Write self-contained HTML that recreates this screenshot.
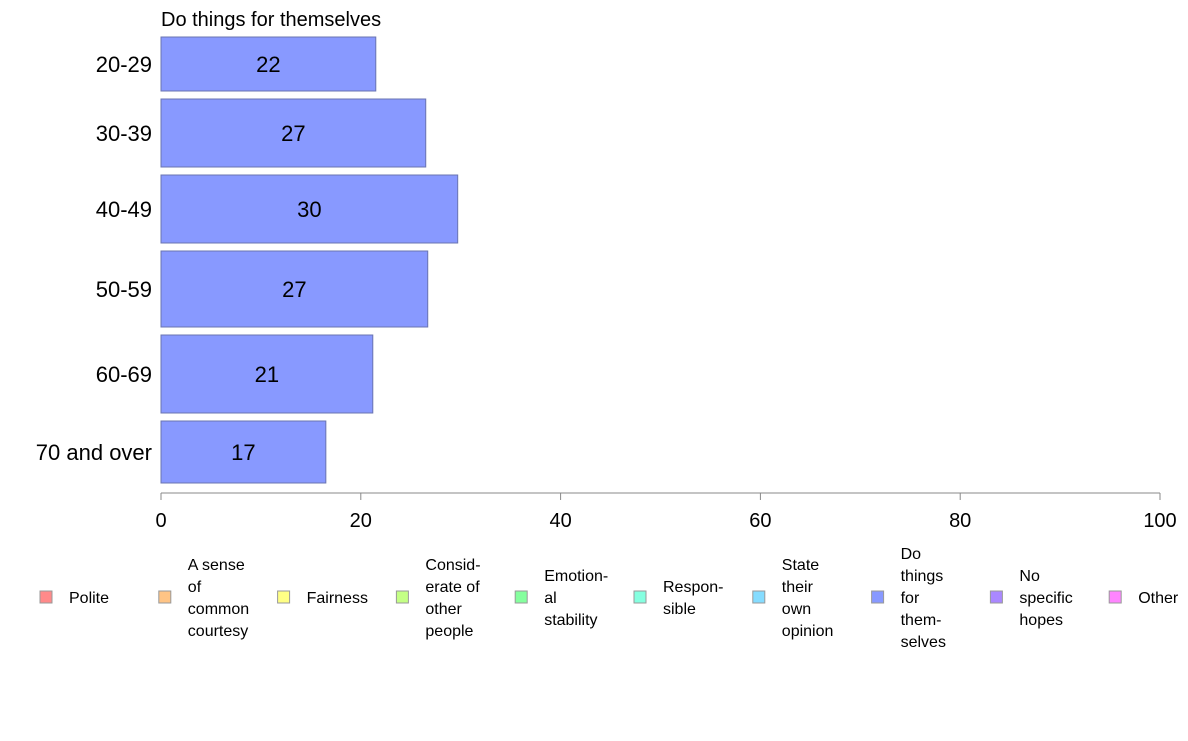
<!DOCTYPE html>
<html><head><meta charset="utf-8"><style>
body{margin:0;background:#fff;font-family:"Liberation Sans",Arial,sans-serif}
svg text{font-family:"Liberation Sans",Arial,sans-serif}
</style></head><body>
<svg id="chart" width="1188" height="736" viewBox="0 0 1188 736" xmlns="http://www.w3.org/2000/svg">
<text x="161" y="26" font-size="20">Do things for themselves</text>
<g id="bars"></g>
<g id="axis"></g>
<g id="legend"></g>
</svg>
<script>
const categories = ["20-29","30-39","40-49","50-59","60-69","70 and over"];
const values = [21.5, 26.5, 29.7, 26.7, 21.2, 16.5];
const sampleSizes = [54, 68, 68, 76, 78, 62];
const xTicks = [0,20,40,60,80,100];
const legendLabels = [["Polite"],["A sense","of","common","courtesy"],["Fairness"],["Consid-","erate of","other","people"],["Emotion-","al","stability"],["Respon-","sible"],["State","their","own","opinion"],["Do","things","for","them-","selves"],["No","specific","hopes"],["Other"]];
const legendColors = ["#ff8a8a","#ffc485","#ffff85","#c4ff85","#85ff9e","#85ffe0","#85dcff","#8899ff","#aa88ff","#ff85ff"];

const NS="http://www.w3.org/2000/svg";
function mk(tag,attrs,parent){const e=document.createElementNS(NS,tag);for(const k in attrs)e.setAttribute(k,attrs[k]);parent.appendChild(e);return e;}
const x0=161,x1=1160,xmax=100;
const xs=v=>x0+(v/xmax)*(x1-x0);
const yTop=37,yBottom=483,gap=8;
const totalN=sampleSizes.reduce((a,b)=>a+b,0);
const avail=yBottom-yTop-gap*(categories.length-1);
const bars=document.getElementById('bars');
let y=yTop;
categories.forEach((c,i)=>{
  const h=sampleSizes[i]/totalN*avail;
  const r=mk('rect',{x:x0,y:y,width:xs(values[i])-x0,height:h,fill:"#8899ff",stroke:"#6a74b0","stroke-width":1},bars);
  
  
  const t=mk('text',{x:(x0+xs(values[i]))/2,y:y+h/2+8,"font-size":22,"text-anchor":"middle"},bars);
  t.textContent=Math.round(values[i]);
  
  
  const l=mk('text',{x:152,y:y+h/2+8,"font-size":22,"text-anchor":"end"},bars);
  l.textContent=c;
  
  
  y+=h+gap;
});
const ax=document.getElementById('axis');
mk('line',{x1:x0,x2:x1,y1:493,y2:493,stroke:"#888","stroke-width":1},ax);
xTicks.forEach(v=>{
  mk('line',{x1:xs(v),x2:xs(v),y1:493,y2:500,stroke:"#888"},ax);
  const t=mk('text',{x:xs(v),y:527,"font-size":20,"text-anchor":"middle"},ax);
  t.textContent=v;
  
  
});
const lg=document.getElementById('legend');
legendLabels.forEach((lines,i)=>{
  const sx=40+i*118.8;
  const g=mk('g',{},lg);
  
  
  mk('rect',{x:sx,y:591,width:12,height:12,fill:legendColors[i],stroke:"#999"},g);
  const n=lines.length,lh=22;
  const startY=597-(n-1)*lh/2+6;
  lines.forEach((s,j)=>{
    const t=mk('text',{x:sx+29,y:startY+j*lh,"font-size":16},g);
    t.textContent=s;
  });
});
</script>
</body></html>
